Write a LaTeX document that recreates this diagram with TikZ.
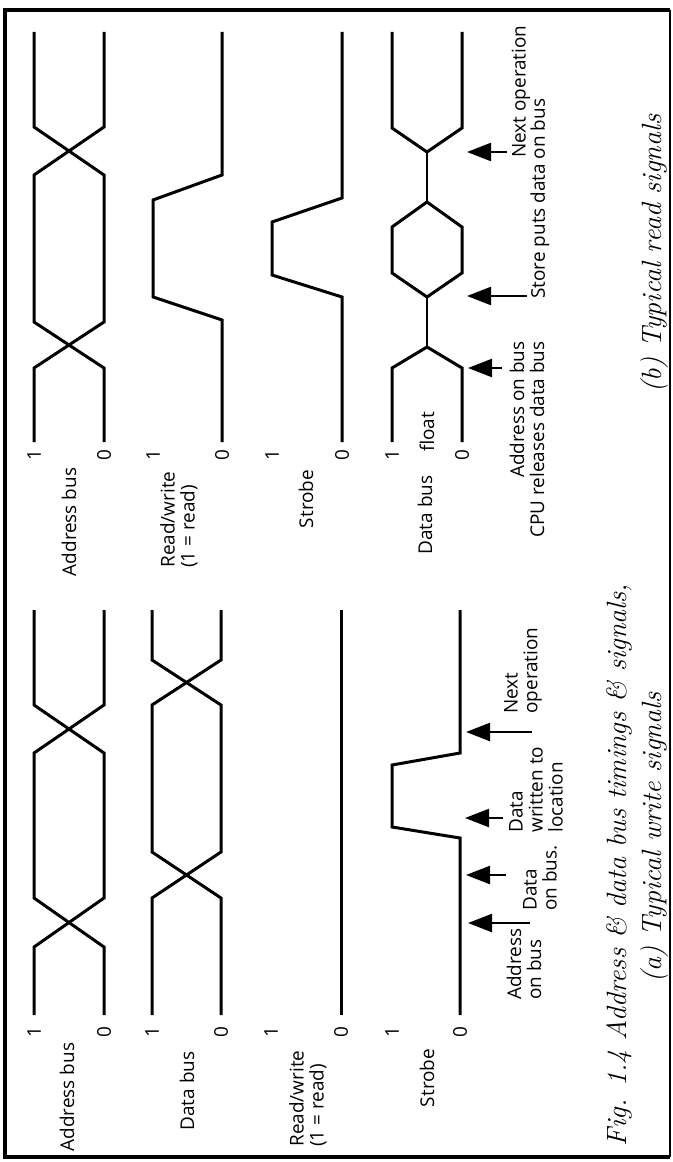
\documentclass[tikz,border=0pt]{standalone}
\usepackage{fontspec}
\setsansfont{Open Sans}
\usetikzlibrary{arrows.meta}
\begin{document}
\begin{tikzpicture}[x=0.5bp,y=-0.5bp,
  wave/.style={line width=1.5bp, line join=miter},
  floatwave/.style={line width=1bp},
  frameline/.style={line width=2bp},
  pointer/.style={line width=1.2bp, -{Triangle[length=12bp,width=9bp]}},
  lbl/.style={font=\sffamily\fontsize{9.5}{10}\selectfont, rotate=90, inner sep=0pt},
  captext/.style={font=\itshape\fontsize{14}{16}\selectfont, rotate=90, inner sep=0pt, anchor=base west},
]
\useasboundingbox (0,0) rectangle (672,1162);
\fill[white] (0,0) rectangle (672,1162);

% frame
\draw[frameline] (670,10) -- (5,10) -- (5,1157) -- (670,1157);
\draw[line width=1bp] (670,10) -- (670,1157);

% ---------------- (b) read cycle ----------------
% address bus
\draw[wave] (34,32) -- (34,127) -- (104,175) -- (104,322) -- (34,368) -- (34,442);
\draw[wave] (104,32) -- (104,127) -- (34,175) -- (34,322) -- (104,368) -- (104,442);
% read/write
\draw[wave] (222,32) -- (222,175) -- (153,200) -- (153,297) -- (222,320) -- (222,442);
% strobe
\draw[wave] (342,32) -- (342,198) -- (272,222) -- (272,275) -- (342,297) -- (342,442);
% data bus
\draw[wave] (392,32) -- (392,128) -- (427,152) -- (462,128) -- (462,32);
\draw[floatwave] (427,152) -- (427,202);
\draw[wave] (427,202) -- (392,227) -- (392,273) -- (427,297) -- (462,273) -- (462,227) -- cycle;
\draw[floatwave] (427,297) -- (427,347);
\draw[wave] (392,442) -- (392,368) -- (427,347) -- (462,368) -- (462,442);

% level marks
\foreach \x/\v [count=\i] in {34/1,104/0,153/1,222/0,272/1,342/0,392/1,462/0}
  \node[lbl] (lvb\i) at (\x,455) {\v};

\node[lbl] (sigbA) at (69,522) {Address bus};
\node[lbl, anchor=west, align=left] (sigbR) at (179,568) {Read/write\\(1 = read)};
\node[lbl] (sigbS) at (306,499) {Strobe};
\node[lbl] (sigbD) at (425,515) {Data bus};
\node[lbl] (sigbF) at (427,432) {float};

% event pointers
\coordinate (pbNt) at (507,152); \coordinate (pbNh) at (467,152);
\coordinate (pbSt) at (527,296); \coordinate (pbSh) at (467,296);
\coordinate (pbAt) at (502,368); \coordinate (pbAh) at (468,368);
\draw[pointer] (pbNt) -- (pbNh);
\draw[pointer] (pbSt) -- (pbSh);
\draw[pointer] (pbAt) -- (pbAh);
\node[lbl, anchor=west] (evbN) at (521,158) {Next operation};
\node[lbl, anchor=west] (evbS) at (540,299) {Store puts data on bus};
\node[lbl, anchor=east, align=right] (evbA) at (527,341) {Address on bus\\CPU releases data bus};

% ---------------- (a) write cycle ----------------
% address bus
\draw[wave] (34,610) -- (34,705) -- (104,753) -- (104,898) -- (34,947) -- (34,1015);
\draw[wave] (104,610) -- (104,705) -- (34,753) -- (34,898) -- (104,947) -- (104,1015);
% data bus
\draw[wave] (152,610) -- (152,660) -- (221,705) -- (221,852) -- (152,898) -- (152,1015);
\draw[wave] (221,610) -- (221,660) -- (152,705) -- (152,852) -- (221,898) -- (221,1015);
% read/write held low
\draw[wave] (341,610) -- (341,1015);
% strobe
\draw[wave] (460,610) -- (460,753) -- (392,765) -- (392,827) -- (460,838) -- (460,1015);

\foreach \x/\v [count=\i] in {34/1,104/0,152/1,221/0,271/1,341/0,392/1,460/0}
  \node[lbl] (lva\i) at (\x,1032) {\v};

\node[lbl] (sigaA) at (67,1097) {Address bus};
\node[lbl] (sigaD) at (187,1091) {Data bus};
\node[lbl, anchor=west, align=left] (sigaR) at (308,1147) {Read/write\\(1 = read)};
\node[lbl] (sigaS) at (427,1078) {Strobe};

\coordinate (paNt) at (532,732); \coordinate (paNh) at (466,732);
\coordinate (paWt) at (503,818); \coordinate (paWh) at (465,818);
\coordinate (paDt) at (506,875); \coordinate (paDh) at (466,875);
\coordinate (paAt) at (530,923); \coordinate (paAh) at (468,923);
\draw[pointer] (paNt) -- (paNh);
\draw[pointer] (paWt) -- (paWh);
\draw[pointer] (paDt) -- (paDh);
\draw[pointer] (paAt) -- (paAh);
\node[lbl, anchor=west, align=left] (evaN) at (523,714) {Next\\operation};
\node[lbl, anchor=west, align=left] (evaW) at (536,833) {Data\\written to\\location};
\node[lbl, anchor=west, align=left] (evaD) at (540,911) {Data\\on bus.};
\node[lbl, anchor=west, align=left] (evaA) at (524,1000) {Address\\on bus};

% captions
\node[captext] (capA1) at (626,1147) {Fig. 1.4 Address \& data bus timings \& signals,};
\node[captext] (capA2) at (661,983) {(a) Typical write signals};
\node[captext] (capB) at (661,393) {(b) Typical read signals};
\end{tikzpicture}
\end{document}
